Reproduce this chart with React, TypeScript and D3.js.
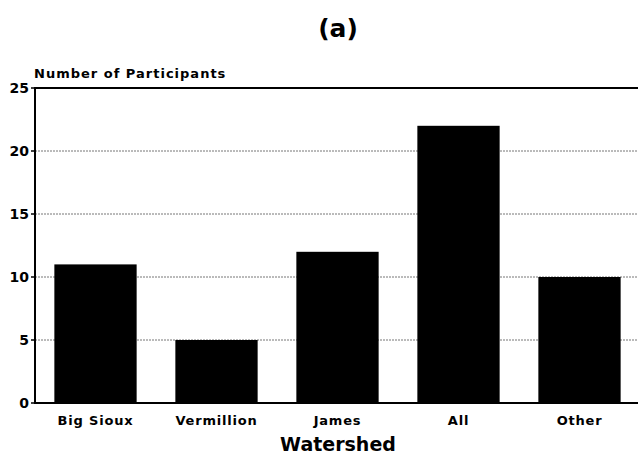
import React from "react";
import * as d3 from "d3";

const categories = ["Big Sioux", "Vermillion", "James", "All", "Other"];
const participants = [11, 5, 12, 22, 10];
const yTicks = [0, 5, 10, 15, 20, 25];

export default function App() {
  const W = 638, H = 459;
  const left = 35, right = 640, top = 88, bottom = 403;
  const x = d3.scaleBand<string>().domain(categories).range([left, right]).paddingInner(0.32).paddingOuter(0.16);
  const y = d3.scaleLinear().domain([0, 25]).range([bottom, top]);
  const font = "'DejaVu Sans', 'Liberation Sans', Arial, sans-serif";
  return (
    <svg width={W} height={H} style={{ position: "absolute", left: 0, top: 0, background: "#fff" }}>
      <rect x={0} y={0} width={W} height={H} fill="#fff" />
      <text x={338} y={37} textAnchor="middle" fontFamily={font} fontWeight="bold" fontSize={25}>(a)</text>
      <text x={34} y={78} fontFamily={font} fontWeight="bold" fontSize={13} letterSpacing={1}>Number of Participants</text>
      {yTicks.filter(t => t > 0 && t < 25).map(t => (
        <line key={"g" + t} x1={left} x2={W} y1={y(t)} y2={y(t)} stroke="#777" strokeWidth={1} strokeDasharray="2,1" />
      ))}
      {categories.map((c, i) => (
        <rect key={c} x={x(c)!} y={y(participants[i])} width={x.bandwidth()} height={y(0) - y(participants[i])} fill="#000" />
      ))}
      <line x1={left} x2={W} y1={y(25)} y2={y(25)} stroke="#000" strokeWidth={2} />
      <line x1={left} x2={W} y1={y(0)} y2={y(0)} stroke="#000" strokeWidth={2} />
      <line x1={left} x2={left} y1={y(0) + 1} y2={y(25) - 1} stroke="#000" strokeWidth={2} />
      {yTicks.map(t => (
        <g key={"t" + t}>
          <line x1={left - 4} x2={left} y1={y(t)} y2={y(t)} stroke="#000" strokeWidth={1.5} />
          <text x={29} y={y(t)} dy="0.36em" textAnchor="end" fontFamily={font} fontWeight="bold" fontSize={14}>{t}</text>
        </g>
      ))}
      {categories.map(c => (
        <text key={"l" + c} x={x(c)! + x.bandwidth() / 2} y={425} textAnchor="middle" fontFamily={font} fontWeight="bold" fontSize={13} letterSpacing={0.8}>{c}</text>
      ))}
      <text x={338} y={451} textAnchor="middle" fontFamily={font} fontWeight="bold" fontSize={19}>Watershed</text>
    </svg>
  );
}
